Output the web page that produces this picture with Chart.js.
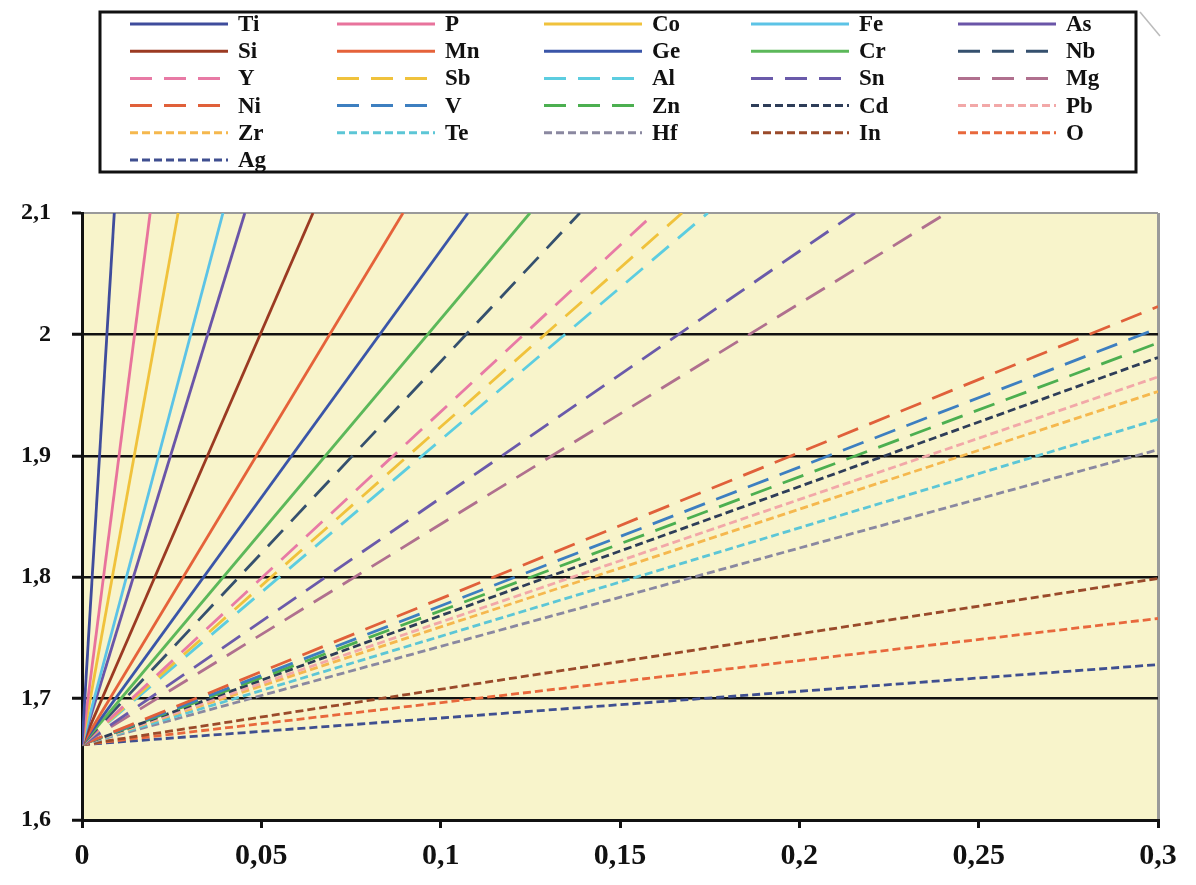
<!DOCTYPE html>
<html>
<head>
<meta charset="utf-8">
<script src="https://cdn.jsdelivr.net/npm/chart.js@4"></script>
<style>
  html, body { margin: 0; padding: 0; background: #fff; }
  #wrap { width: 1196px; height: 885px; }
</style>
</head>
<body>
<div id="wrap"><canvas id="chart" width="1196" height="885"></canvas></div>
<script>
// Series names, in legend order (also steepest to flattest)
const elements = ["Ti", "P", "Co", "Fe", "As", "Si", "Mn", "Ge", "Cr", "Nb",
  "Y", "Sb", "Al", "Sn", "Mg", "Ni", "V", "Zn", "Cd", "Pb",
  "Zr", "Te", "Hf", "In", "O", "Ag"];

// Every line starts at the same point
const startX = 0;
const startY = 1.662;

// Where each line leaves the plot (top edge at 2,1 or right edge at 0,3)
const endX = [0.009, 0.019, 0.0268, 0.0393, 0.0454, 0.0644, 0.0895, 0.1076, 0.1249, 0.1388,
  0.1597, 0.1673, 0.1745, 0.2155, 0.2411, 0.3, 0.3, 0.3, 0.3, 0.3,
  0.3, 0.3, 0.3, 0.3, 0.3, 0.3];
const endY = [2.1, 2.1, 2.1, 2.1, 2.1, 2.1, 2.1, 2.1, 2.1, 2.1,
  2.1, 2.1, 2.1, 2.1, 2.1, 2.023, 2.005, 1.993, 1.981, 1.965,
  1.953, 1.930, 1.905, 1.799, 1.766, 1.728];

const colors = ["#3f4c9c", "#e8739c", "#f0c23c", "#5cc3e6", "#6a55a8", "#9b3a22", "#e5623a", "#3a55a8", "#5cb85a", "#35506e",
  "#e87aa5", "#f0c23c", "#5ccde0", "#6a5aaa", "#b0708e", "#e0603a", "#3d7fc0", "#4caf50", "#2e3d58", "#f2a8a8",
  "#f5b84e", "#5cc6d6", "#8a88a0", "#9a4a2a", "#e8683c", "#3f4f90"];

// s = solid, l = long dash, d = short dash
const styles = ["s", "s", "s", "s", "s", "s", "s", "s", "s", "l",
  "l", "l", "l", "l", "l", "l", "l", "l", "d", "d",
  "d", "d", "d", "d", "d", "d"];

const xTicks = [0, 0.05, 0.1, 0.15, 0.2, 0.25, 0.3];
const yTicks = [1.6, 1.7, 1.8, 1.9, 2, 2.1];

const dashFor = { s: [], l: [22, 12], d: [8, 4] };
const serif = "'Liberation Serif', 'Times New Roman', serif";
const fmt = v => String(Math.round(v * 100) / 100).replace(".", ",");

const datasets = elements.map((name, i) => ({
  label: name,
  data: [{ x: startX, y: startY }, { x: endX[i], y: endY[i] }],
  borderColor: colors[i],
  borderWidth: 2.8,
  borderDash: dashFor[styles[i]],
  pointRadius: 0,
  showLine: true,
  fill: false,
}));

// yellow plot background
const plotBg = {
  id: "plotBg",
  beforeDraw(chart) {
    const { ctx, chartArea: a } = chart;
    ctx.save();
    ctx.fillStyle = "#f8f4cb";
    ctx.fillRect(a.left, a.top, a.right - a.left, a.bottom - a.top);
    ctx.restore();
  },
};

// boxed legend, 5 fixed columns
const boxLegend = {
  id: "boxLegend",
  afterDraw(chart) {
    const ctx = chart.ctx;
    ctx.save();
    ctx.strokeStyle = "#111";
    ctx.lineWidth = 3;
    ctx.strokeRect(100, 12, 1036, 160);
    ctx.strokeStyle = "#bbb";
    ctx.lineWidth = 1.5;
    ctx.beginPath();
    ctx.moveTo(1140, 12);
    ctx.lineTo(1160, 36);
    ctx.stroke();

    ctx.font = "bold 23px " + serif;
    ctx.textBaseline = "middle";
    chart.data.datasets.forEach((ds, i) => {
      const col = i % 5, row = Math.floor(i / 5);
      const x = 130 + col * 207;
      const y = 24 + row * 27.2;
      ctx.strokeStyle = ds.borderColor;
      ctx.lineWidth = 3;
      ctx.setLineDash(ds.borderDash);
      ctx.beginPath();
      ctx.moveTo(x, y);
      ctx.lineTo(x + 98, y);
      ctx.stroke();
      ctx.setLineDash([]);
      ctx.fillStyle = "#111";
      ctx.fillText(ds.label, x + 108, y + 1);
    });
    ctx.restore();
  },
};

new Chart(document.getElementById("chart"), {
  type: "scatter",
  data: { datasets },
  plugins: [plotBg, boxLegend],
  options: {
    responsive: false,
    devicePixelRatio: 1,
    animation: false,
    layout: { padding: { top: 213, right: 38, left: 0, bottom: 0 } },
    plugins: {
      legend: { display: false },
      tooltip: { enabled: false },
    },
    scales: {
      x: {
        type: "linear",
        min: 0,
        max: 0.3,
        afterFit: s => { s.height = 65; },
        afterBuildTicks: s => { s.ticks = xTicks.map(v => ({ value: v })); },
        ticks: {
          callback: fmt,
          color: "#111",
          padding: 10,
          maxRotation: 0,
          font: { family: serif, size: 30, weight: "bold" },
        },
        grid: {
          color: c => (c.tick && c.tick.value === 0.3 ? "#9a9a9a" : "rgba(0,0,0,0)"),
          lineWidth: 3,
          tickColor: "#111",
          tickLength: 8,
          tickWidth: 3,
        },
        border: { color: "#111", width: 3 },
      },
      y: {
        min: 1.6,
        max: 2.1,
        afterFit: s => { s.width = 82; },
        afterBuildTicks: s => { s.ticks = yTicks.map(v => ({ value: v })); },
        ticks: {
          callback: fmt,
          color: "#111",
          padding: 21,
          font: { family: serif, size: 24, weight: "bold" },
        },
        grid: {
          color: c => (c.tick && c.tick.value === 2.1 ? "#9a9a9a" : "#111"),
          lineWidth: c => (c.tick && c.tick.value === 2.1 ? 2 : 2.5),
          tickColor: "#111",
          tickLength: 10,
          tickWidth: 3,
        },
        border: { color: "#111", width: 3 },
      },
    },
  },
});
</script>
</body>
</html>
